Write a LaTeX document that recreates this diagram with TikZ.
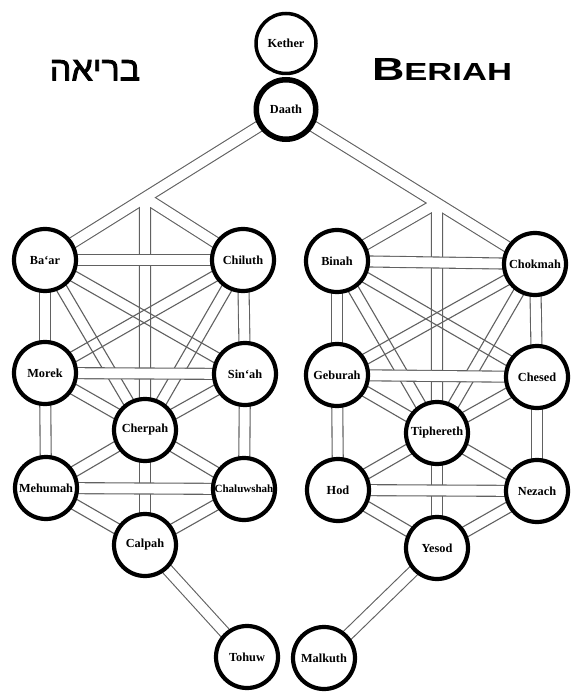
\documentclass[tikz,border=0pt]{standalone}
\usepackage{fontspec}
\usepackage{graphicx}
\setmainfont{Liberation Serif}
\newfontfamily\hebfont[Script=Hebrew, FakeBold=2.5]{Liberation Sans}
\newfontfamily\titlefont{Liberation Sans}
\TeXXeTstate=1
\usetikzlibrary{calc,backgrounds}
\definecolor{pathgray}{gray}{0.38}
\tikzset{
  sef/.style={circle, draw=black, line width=4.2pt, fill=white, minimum size=62pt,
    inner sep=0pt, font=\bfseries\fontsize{12.3}{13}\selectfont},
  bandout/.style={draw=pathgray, line width=12.1pt},
  bandin/.style={draw=white, line width=9.9pt},
  pairline/.style={draw=pathgray, line width=1.1pt},
}
\begin{document}
\begin{tikzpicture}[x=1pt,y=-1pt]
\useasboundingbox (0,0) rectangle (583,700);
% titles
\node[anchor=base, inner sep=0pt] (heb) at (95,80.5)
  {\hebfont\fontsize{34}{34}\selectfont\beginR בריאה\endR};
\node[anchor=base, inner sep=0pt] (title) at (442,81)
  {\titlefont\bfseries\scalebox{1.4}[1]{\fontsize{32}{32}\selectfont B\fontsize{24.7}{25}\selectfont ERIAH}};
% supernal
\node[sef, line width=3.5pt, minimum size=60pt] (kether) at (286,43.5) {Kether};
\node[sef, line width=5.5pt, minimum size=59.5pt] (daath) at (286,109.5) {Daath};
% left tree
\node[sef] (baar)       at (45,260)  {Ba‘ar};
\node[sef] (chiluth)    at (243,260) {Chiluth};
\node[sef] (morek)      at (45,373)  {Morek};
\node[sef] (sinah)      at (245,374) {Sin‘ah};
\node[sef] (cherpah)    at (145,430) {Cherpah};
\node[sef] (mehumah)    at (46,488)  {Mehumah};
\node[sef, font=\bfseries\fontsize{11}{12}\selectfont] (chaluwshah) at (244,489) {Chaluwshah};
\node[sef] (calpah)     at (145,545) {Calpah};
\node[sef] (tohuw)      at (247,657) {Tohuw};
% right tree
\node[sef] (binah)      at (337,261) {Binah};
\node[sef] (chokmah)    at (535,264) {Chokmah};
\node[sef] (geburah)    at (337,375) {Geburah};
\node[sef] (chesed)     at (537,377) {Chesed};
\node[sef] (tiphereth)  at (437,433) {Tiphereth};
\node[sef] (hod)        at (338,490) {Hod};
\node[sef] (nezach)     at (537,491) {Nezach};
\node[sef] (yesod)      at (437,548) {Yesod};
\node[sef] (malkuth)    at (324,658) {Malkuth};
% junctions
\coordinate (j1) at (intersection of daath.center--baar.center and cherpah.center--calpah.center);
\coordinate (j2) at (intersection of daath.center--chokmah.center and tiphereth.center--yesod.center);
\begin{pgfonlayer}{background}
\fill[white] (0,0) rectangle (583,700);
\def\bandlist{daath/baar, j1/chiluth, j1/cherpah, cherpah/calpah, baar/morek, morek/mehumah,
  chiluth/sinah, sinah/chaluwshah, calpah/tohuw,
  daath/chokmah, j2/binah, j2/tiphereth, tiphereth/yesod, binah/geburah, geburah/hod,
  chokmah/chesed, chesed/nezach, yesod/malkuth}
\foreach \a/\b in \bandlist {\draw[bandout] (\a.center) -- (\b.center);}
\foreach \a/\b in \bandlist {\draw[bandin] (\a.center) -- (\b.center);}
% diagonal paths: two open lines
\foreach \a/\b in {baar/sinah, chiluth/morek, baar/cherpah, chiluth/cherpah, morek/cherpah,
  sinah/cherpah, cherpah/mehumah, cherpah/chaluwshah, mehumah/calpah, chaluwshah/calpah,
  binah/chesed, chokmah/geburah, binah/tiphereth, chokmah/tiphereth, geburah/tiphereth,
  chesed/tiphereth, tiphereth/hod, tiphereth/nezach, hod/yesod, nezach/yesod}
{
  \draw[pairline] ($(\a.center)!5.5pt!90:(\b.center)$) -- ($(\b.center)!5.5pt!-90:(\a.center)$);
  \draw[pairline] ($(\a.center)!5.5pt!-90:(\b.center)$) -- ($(\b.center)!5.5pt!90:(\a.center)$);
}
% horizontal paths on top
\foreach \a/\b in {baar/chiluth, morek/sinah, mehumah/chaluwshah,
  binah/chokmah, geburah/chesed, hod/nezach}
{
  \draw[bandout] (\a.center) -- (\b.center);
  \draw[bandin] (\a.center) -- (\b.center);
}
\end{pgfonlayer}
\end{tikzpicture}
\end{document}
